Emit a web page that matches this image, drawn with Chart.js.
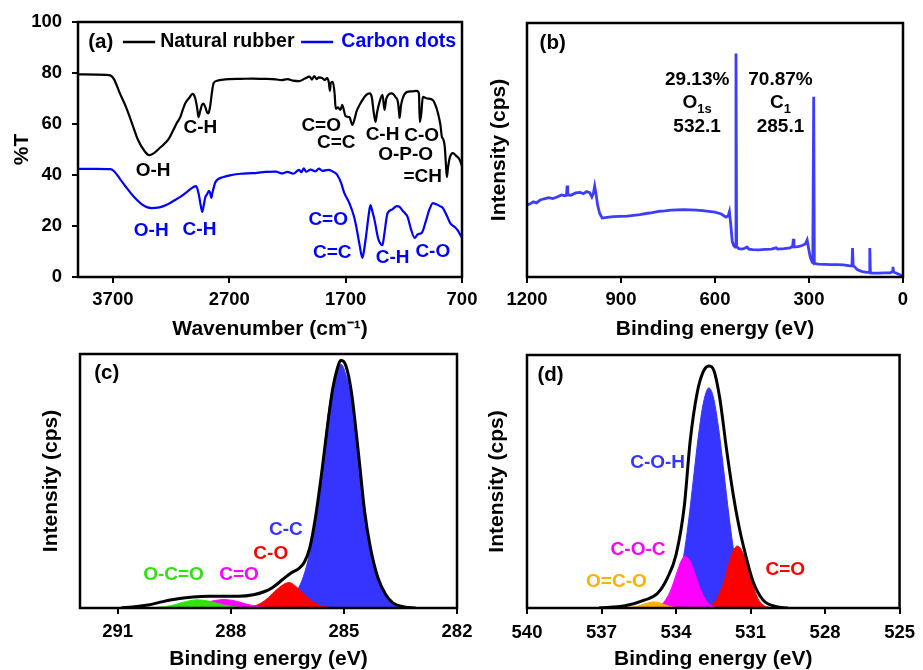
<!DOCTYPE html>
<html>
<head>
<meta charset="utf-8">
<script src="https://cdn.jsdelivr.net/npm/chart.js@4.4.1/dist/chart.umd.min.js"></script>
<style>
html, body { margin: 0; padding: 0; background: #fff; }
body { position: relative; width: 923px; height: 670px; overflow: hidden; }
canvas { position: absolute; }
</style>
</head>
<body>
<canvas id="chartA" width="490" height="340" style="left:0;top:0"></canvas>
<canvas id="chartB" width="445" height="340" style="left:478px;top:0"></canvas>
<canvas id="chartC" width="490" height="330" style="left:0;top:340px"></canvas>
<canvas id="chartD" width="445" height="330" style="left:478px;top:340px"></canvas>
<script>
// (a) FTIR
const aTicksX = [3700, 2700, 1700, 700];
const nrWave = [4000, 3850, 3760, 3720, 3690, 3640, 3588, 3530, 3484, 3430, 3389, 3350, 3300, 3268, 3220, 3181, 3150, 3121, 3100, 3077, 3040, 3017, 2995, 2975, 2965, 2950, 2935, 2922, 2905, 2890, 2879, 2868, 2861, 2850, 2835, 2800, 2766, 2700, 2600, 2500, 2400, 2300, 2250, 2200, 2150, 2100, 2050, 2010, 1990, 1970, 1950, 1930, 1900, 1880, 1860, 1845, 1835, 1828, 1810, 1795, 1785, 1765, 1745, 1729, 1700, 1668, 1642, 1620, 1608, 1580, 1556, 1520, 1495, 1475, 1460, 1443, 1430, 1409, 1383, 1366, 1350, 1305, 1270, 1250, 1240, 1236, 1225, 1210, 1175, 1130, 1089, 1070, 1063, 1050, 1037, 1000, 950, 925, 907, 885, 873, 860, 848, 838, 830, 820, 804, 778, 750, 720, 700];
const nrT = [79.5, 79.4, 79.3, 79.0, 77.5, 72.0, 66.7, 59.5, 53.7, 49.5, 47.8, 48.5, 50.5, 51.8, 54.2, 57.6, 60.5, 62.7, 65.5, 68.2, 70.5, 71.8, 70.5, 66.0, 62.7, 65.0, 67.5, 68.0, 66.5, 64.5, 64.2, 66.0, 68.0, 72.0, 76.0, 77.0, 77.3, 77.6, 77.7, 77.8, 77.7, 77.5, 77.2, 77.6, 77.0, 76.8, 77.8, 78.6, 77.4, 78.8, 77.6, 78.3, 78.0, 77.2, 78.0, 76.5, 73.0, 76.0, 76.5, 72.0, 66.0, 66.5, 65.5, 67.5, 63.0, 62.7, 59.6, 62.5, 64.7, 67.5, 69.4, 71.5, 72.0, 70.5, 65.0, 60.8, 64.5, 68.6, 71.4, 65.5, 70.0, 72.0, 70.5, 68.5, 64.0, 62.4, 67.0, 70.0, 72.5, 72.8, 73.0, 72.0, 60.8, 64.0, 70.6, 70.0, 69.4, 67.0, 64.3, 59.5, 55.0, 54.0, 51.0, 44.0, 39.2, 43.0, 47.0, 48.6, 47.5, 46.0, 43.5];
const cdWave = [4000, 3850, 3720, 3690, 3640, 3588, 3520, 3441, 3371, 3300, 3242, 3180, 3121, 3060, 3008, 2985, 2965, 2945, 2932, 2920, 2905, 2890, 2875, 2862, 2855, 2845, 2818, 2750, 2680, 2600, 2500, 2386, 2300, 2250, 2200, 2150, 2100, 2080, 2060, 2040, 2000, 1960, 1930, 1900, 1850, 1815, 1790, 1772, 1740, 1711, 1668, 1630, 1608, 1580, 1556, 1540, 1521, 1500, 1487, 1475, 1452, 1420, 1400, 1383, 1370, 1340, 1300, 1260, 1236, 1210, 1190, 1167, 1140, 1106, 1080, 1046, 1010, 980, 950, 920, 890, 864, 830, 800, 786, 760, 740, 720, 700];
const cdT = [42.4, 42.4, 42.3, 41.5, 38.5, 35.3, 31.5, 28.2, 27.0, 27.3, 28.2, 29.8, 31.4, 33.5, 35.3, 35.6, 33.0, 28.0, 25.5, 28.0, 31.4, 32.5, 33.8, 32.5, 31.0, 33.0, 37.3, 39.2, 40.0, 40.5, 40.7, 41.2, 41.3, 40.6, 41.2, 40.5, 42.0, 41.1, 42.6, 41.3, 42.1, 41.4, 42.5, 41.6, 42.0, 41.5, 40.8, 40.0, 37.0, 32.9, 29.0, 24.0, 19.6, 12.5, 7.5, 11.0, 17.3, 25.0, 28.2, 26.5, 22.4, 15.0, 13.0, 12.5, 16.0, 25.0, 26.5, 27.8, 27.5, 26.0, 25.0, 23.5, 19.0, 15.3, 16.8, 17.3, 22.0, 26.5, 29.0, 28.5, 27.8, 27.0, 24.0, 21.0, 20.4, 19.5, 18.5, 17.0, 15.3];

// (b) XPS survey
const bTicksX = [1200, 900, 600, 300, 0];
const surveyEnergy = [1200, 1190, 1180, 1170, 1158, 1145, 1130, 1118, 1104, 1090, 1080, 1074, 1072, 1070, 1060, 1045, 1030, 1020, 1010, 1000, 993, 988, 984, 980, 975, 968, 960, 945, 925, 905, 880, 860, 840, 820, 800, 780, 760, 740, 720, 700, 680, 660, 640, 620, 600, 580, 565, 558, 554, 550, 545, 540, 536, 533, 531, 525, 515, 505, 498, 492, 480, 460, 440, 420, 405, 400, 380, 360, 352, 350, 348, 335, 322, 312, 306, 301, 296, 290, 288, 285, 283, 270, 250, 230, 210, 190, 170, 163, 161, 159, 156, 145, 130, 115, 108, 106, 104, 95, 80, 60, 40, 34, 32, 30, 15, 5, 0];
const surveyCounts = [28.3, 28.8, 29.6, 29.2, 30.3, 30.8, 31.2, 30.9, 31.5, 32.3, 32.0, 32.2, 36.0, 32.3, 32.2, 33.1, 33.3, 32.8, 33.6, 33.2, 31.5, 33.0, 35.8, 33.0, 28.5, 25.0, 23.2, 23.5, 23.8, 23.9, 24.0, 24.3, 24.6, 25.0, 25.3, 25.8, 26.0, 26.3, 26.4, 26.5, 26.4, 26.3, 26.1, 25.8, 25.5, 24.8, 23.6, 24.0, 25.7, 21.0, 14.0, 12.3, 11.8, 88.0, 12.0, 11.2, 11.0, 11.3, 11.8, 11.0, 10.8, 10.7, 10.9, 11.0, 11.5, 11.0, 11.2, 11.5, 12.2, 15.0, 11.8, 12.0, 12.4, 13.0, 14.6, 11.0, 7.8, 5.8, 5.6, 71.0, 5.4, 5.1, 5.0, 4.9, 4.9, 4.8, 4.4, 4.4, 11.4, 4.4, 4.2, 2.8, 2.1, 1.8, 1.9, 11.4, 1.6, 1.5, 1.5, 1.6, 1.6, 2.2, 4.0, 2.0, 1.2, 0.6, 0.3];

// (c) C1s
const cTicksX = [291, 288, 285, 282];
const c1sEnvE = [290.9, 290.6, 290.2, 289.8, 289.4, 289.0, 288.6, 288.2, 287.8, 287.4, 287.1, 286.9, 286.6, 286.4, 286.2, 286.05, 285.9, 285.75, 285.6, 285.45, 285.3, 285.15, 285.08, 284.95, 284.8, 284.6, 284.45, 284.3, 284.1, 283.9, 283.7, 283.4, 283.1];
const c1sEnvI = [0.1, 0.4, 1.2, 2.5, 3.6, 4.3, 4.6, 4.6, 4.6, 5.2, 6.5, 8.0, 11.5, 13.8, 15.5, 18.0, 24.0, 36.0, 52.0, 70.0, 86.0, 95.5, 97.5, 95.5, 85.0, 59.0, 38.0, 24.0, 12.0, 5.5, 2.0, 0.4, 0.0];
const ccE = [286.9, 286.5, 286.2, 286.0, 285.8, 285.6, 285.4, 285.2, 285.08, 284.95, 284.8, 284.6, 284.4, 284.2, 284.0, 283.7, 283.4];
const ccI = [0.5, 3.0, 8.0, 16.0, 30.0, 52.0, 78.0, 93.0, 96.0, 92.0, 82.0, 57.0, 30.0, 16.0, 8.0, 2.0, 0.5];
const coE = [287.6, 287.4, 287.2, 287.0, 286.8, 286.6, 286.45, 286.3, 286.1, 285.9, 285.7, 285.5, 285.3];
const coI = [0.2, 0.7, 1.9, 4.1, 7.0, 9.3, 10.0, 8.8, 6.0, 3.2, 1.4, 0.5, 0.1];
const cdoE = [289.6, 289.3, 289.0, 288.8, 288.6, 288.4, 288.2, 288.0, 287.8, 287.6, 287.4, 287.2, 286.9, 286.6];
const cdoI = [0.1, 0.4, 0.9, 1.6, 2.4, 3.0, 3.3, 3.1, 2.5, 1.6, 0.9, 0.4, 0.1, 0.0];
const ocoE = [290.2, 289.9, 289.6, 289.4, 289.2, 289.0, 288.9, 288.7, 288.5, 288.3, 288.1, 287.8, 287.5, 287.0, 286.0, 285.0, 284.0, 283.5];
const ocoI = [0.05, 0.3, 0.9, 1.7, 2.5, 3.1, 3.2, 3.0, 2.4, 1.6, 0.9, 0.3, 0.05, 0, 0, 0, 0, 0];

// (d) O1s
const dTicksX = [540, 537, 534, 531, 528, 525];
const o1sEnvE = [537.1, 536.05, 535.25, 534.74, 534.34, 534.0, 533.67, 533.43, 533.15, 532.9, 532.68, 532.48, 532.24, 531.97, 531.7, 531.46, 531.2, 530.9, 530.5, 530.0, 529.5];
const o1sEnvI = [0.0, 0.9, 3.2, 5.8, 12.0, 21.0, 40.0, 66.0, 85.0, 93.5, 95.7, 94.0, 83.0, 63.0, 45.0, 32.0, 21.0, 10.5, 3.2, 0.6, 0.0];
const cohE = [534.7, 534.4, 534.1, 533.9, 533.7, 533.5, 533.3, 533.1, 532.9, 532.68, 532.5, 532.3, 532.1, 531.9, 531.7, 531.5, 531.3, 531.0, 530.7];
const cohI = [0.3, 1.3, 5.0, 10.5, 20.0, 34.0, 51.0, 68.0, 81.0, 87.0, 83.5, 72.0, 56.0, 39.0, 24.0, 13.0, 6.0, 1.6, 0.3];
const cocE = [535.0, 534.6, 534.4, 534.2, 534.0, 533.8, 533.63, 533.4, 533.2, 533.0, 532.8, 532.6, 532.3];
const cocI = [0.2, 1.3, 3.5, 7.4, 13.0, 18.5, 20.5, 18.0, 12.5, 7.0, 3.2, 1.1, 0.2];
const odE = [532.8, 532.5, 532.3, 532.1, 531.9, 531.7, 531.53, 531.3, 531.1, 530.9, 530.7, 530.5, 530.2];
const odI = [0.2, 1.7, 4.5, 9.5, 16.5, 22.5, 24.5, 21.6, 15.5, 8.8, 3.7, 1.2, 0.2];
const ocdoE = [536.0, 535.6, 535.3, 535.1, 534.9, 534.7, 534.4, 534.1, 533.8];
const ocdoI = [0.1, 0.6, 1.5, 2.1, 2.4, 2.1, 1.1, 0.3, 0.05];

const FONT = '"Liberation Sans", Arial, sans-serif';
const BLUE = '#3535ff', RED = '#ff0000', MAGENTA = '#ff00ff', GREEN = '#33e010', ORANGE = '#ffb000';
const TICK = 18.5;

function pts(xs, ys) {
    return xs.map((x, i) => ({ x: x, y: ys[i] }));
}

// frame + text labels drawn in data units
function notes(items) {
    return {
        id: 'notes',
        afterDraw(chart) {
            const { ctx, chartArea: a, scales: { x, y } } = chart;
            ctx.save();
            ctx.strokeStyle = '#000';
            ctx.lineWidth = 2.5;
            ctx.strokeRect(a.left, a.top, a.right - a.left, a.bottom - a.top);
            items.forEach(n => {
                const px = x.getPixelForValue(n.x);
                const py = y.getPixelForValue(n.y);
                if (n.x2 !== undefined) {
                    ctx.beginPath();
                    ctx.moveTo(px, py);
                    ctx.lineTo(x.getPixelForValue(n.x2), py);
                    ctx.strokeStyle = n.color;
                    ctx.lineWidth = 2.5;
                    ctx.stroke();
                    return;
                }
                const size = n.size || 19;
                ctx.font = `bold ${size}px ${FONT}`;
                const w = ctx.measureText(n.text).width;
                let sw = 0;
                if (n.sub) {
                    ctx.font = `bold 13px ${FONT}`;
                    sw = ctx.measureText(n.sub).width;
                }
                const left = n.align === 'left' ? px : px - (w + sw) / 2;
                ctx.fillStyle = n.color || '#000';
                ctx.textAlign = 'left';
                ctx.textBaseline = 'middle';
                ctx.font = `bold ${size}px ${FONT}`;
                ctx.fillText(n.text, left, py);
                if (n.sub) {
                    ctx.font = `bold 13px ${FONT}`;
                    ctx.fillText(n.sub, left + w, py + 6);
                }
            });
            ctx.restore();
        }
    };
}

function xAxis(min, max, tickVals, height, pad) {
    return {
        type: 'linear', reverse: true, min: min, max: max,
        afterBuildTicks: s => { s.ticks = tickVals.map(v => ({ value: v })); },
        afterFit: s => { s.height = height; },
        ticks: { color: '#000', font: { family: FONT, size: TICK, weight: 'bold' }, padding: pad, maxRotation: 0, autoSkip: false, callback: v => String(v) },
        grid: { drawOnChartArea: false, tickLength: 6, lineWidth: 2, color: '#000' },
        border: { display: false },
        title: { display: true, text: 'Binding energy (eV)', color: '#000', font: { family: FONT, size: 21, weight: 'bold', lineHeight: 1 }, padding: { top: 0, bottom: 0 } }
    };
}

function yBlank(width, padTop) {
    return {
        min: 0, max: 100,
        afterFit: s => { s.width = width; },
        ticks: { display: false },
        grid: { display: false },
        border: { display: false },
        title: { display: true, text: 'Intensity (cps)', color: '#000', font: { family: FONT, size: 21, weight: 'bold', lineHeight: 1 }, padding: { top: padTop, bottom: 0 } }
    };
}

function baseOptions(padding, scales) {
    return {
        responsive: false, animation: false, devicePixelRatio: 1,
        layout: { padding: padding },
        plugins: { legend: { display: false }, tooltip: { enabled: false } },
        elements: { point: { radius: 0 } },
        scales: scales
    };
}

function line(data, color, width, order) {
    return { data: data, borderColor: color, borderWidth: width, fill: false, pointRadius: 0, cubicInterpolationMode: 'monotone', order: order };
}

function area(data, color, order) {
    return { data: data, borderColor: color, backgroundColor: color, borderWidth: 1, fill: 'origin', pointRadius: 0, cubicInterpolationMode: 'monotone', order: order };
}

// (a)
const axA = xAxis(700, 4000, aTicksX, 63, 6);
axA.title.text = 'Wavenumber (cm\u207B\u00B9)';
new Chart(document.getElementById('chartA'), {
    type: 'line',
    data: { datasets: [line(pts(nrWave, nrT), '#000', 2.2, 1), line(pts(cdWave, cdT), '#0000ff', 2.2, 0)] },
    options: baseOptions({ left: 0, right: 28, top: 22, bottom: 0 }, {
        x: axA,
        y: {
            min: 0, max: 100,
            afterFit: s => { s.width = 78; },
            ticks: { stepSize: 20, color: '#000', font: { family: FONT, size: TICK, weight: 'bold' }, padding: 10 },
            grid: { drawOnChartArea: false, tickLength: 6, lineWidth: 2, color: '#000' },
            border: { display: false },
            title: { display: true, text: '%T', color: '#000', font: { family: FONT, size: 21, weight: 'bold', lineHeight: 1 }, padding: { top: 11.5, bottom: 0 } }
        }
    }),
    plugins: [notes([
        { text: '(a)', x: 3804, y: 92.2, size: 20.5 },
        { x: 3614, x2: 3337, y: 92.2, color: '#000' },
        { text: 'Natural rubber', x: 3294, y: 92.2, size: 19.5, align: 'left' },
        { x: 2083, x2: 1807, y: 92.2, color: '#0000ff' },
        { text: 'Carbon dots', x: 1737, y: 92.2, size: 19.5, align: 'left', color: '#0000ff' },
        { text: 'O-H', x: 3354, y: 41.6 },
        { text: 'C-H', x: 2948, y: 58.4 },
        { text: 'C=O', x: 1910, y: 59.2 },
        { text: 'C=C', x: 1781, y: 52.5 },
        { text: 'C-H', x: 1383, y: 55.7 },
        { text: 'C-O', x: 1046, y: 55.3 },
        { text: 'O-P-O', x: 1184, y: 47.8 },
        { text: '=CH', x: 1037, y: 39.2 },
        { text: 'O-H', x: 3371, y: 18, color: '#0000ff' },
        { text: 'C-H', x: 2956, y: 18.4, color: '#0000ff' },
        { text: 'C=O', x: 1850, y: 22.4, color: '#0000ff' },
        { text: 'C=C', x: 1815, y: 9.4, color: '#0000ff' },
        { text: 'C-H', x: 1296, y: 7.5, color: '#0000ff' },
        { text: 'C-O', x: 951, y: 9.8, color: '#0000ff' }
    ])]
});

// (b)
new Chart(document.getElementById('chartB'), {
    type: 'line',
    data: { datasets: [{ data: pts(surveyEnergy, surveyCounts), borderColor: '#3d3dff', borderWidth: 2.8, fill: false, pointRadius: 0, tension: 0 }] },
    options: baseOptions({ left: 0, right: 20, top: 23, bottom: 0 }, {
        x: xAxis(0, 1200, bTicksX, 63, 6),
        y: yBlank(49, 10.5)
    }),
    plugins: [notes([
        { text: '(b)', x: 1118, y: 92, size: 20.5 },
        { text: '29.13%', x: 657, y: 77.6 },
        { text: 'O', sub: '1s', x: 657, y: 68.5 },
        { text: '532.1', x: 657, y: 59 },
        { text: '70.87%', x: 391, y: 77.6 },
        { text: 'C', sub: '1', x: 391, y: 68.5 },
        { text: '285.1', x: 391, y: 59 }
    ])]
});

// (c)
new Chart(document.getElementById('chartC'), {
    type: 'line',
    data: { datasets: [
        line(pts(c1sEnvE, c1sEnvI), '#000', 3, 0),
        area(pts(ocoE, ocoI), GREEN, 1),
        area(pts(cdoE, cdoI), MAGENTA, 2),
        area(pts(coE, coI), RED, 3),
        area(pts(ccE, ccI), BLUE, 4)
    ] },
    options: baseOptions({ left: 0, right: 33, top: 14, bottom: 0 }, {
        x: xAxis(282, 292, cTicksX, 62, 7),
        y: yBlank(80, 40.5)
    }),
    plugins: [notes([
        { text: '(c)', x: 291.29, y: 92.5, size: 20.5 },
        { text: 'C-C', x: 286.54, y: 30.7, color: BLUE },
        { text: 'C-O', x: 286.94, y: 21.3, color: RED },
        { text: 'O-C=O', x: 289.52, y: 13, color: GREEN },
        { text: 'C=O', x: 287.78, y: 13, color: MAGENTA }
    ])]
});

// (d)
new Chart(document.getElementById('chartD'), {
    type: 'line',
    data: { datasets: [
        line(pts(o1sEnvE, o1sEnvI), '#000', 3, 0),
        area(pts(ocdoE, ocdoI), ORANGE, 1),
        area(pts(cocE, cocI), MAGENTA, 2),
        area(pts(odE, odI), RED, 3),
        area(pts(cohE, cohI), BLUE, 4)
    ] },
    options: baseOptions({ left: 0, right: 17, top: 15, bottom: 0 }, {
        x: xAxis(525, 540, dTicksX, 62, 8),
        y: yBlank(49, 8.5)
    }),
    plugins: [notes([
        { text: '(d)', x: 539.05, y: 92, size: 20.5 },
        { text: 'C-O-H', x: 534.74, y: 57.3, color: BLUE },
        { text: 'C-O-C', x: 535.53, y: 22.9, color: MAGENTA },
        { text: 'O=C-O', x: 536.4, y: 10.3, color: ORANGE },
        { text: 'C=O', x: 529.6, y: 15, color: RED }
    ])]
});
</script>
</body>
</html>
